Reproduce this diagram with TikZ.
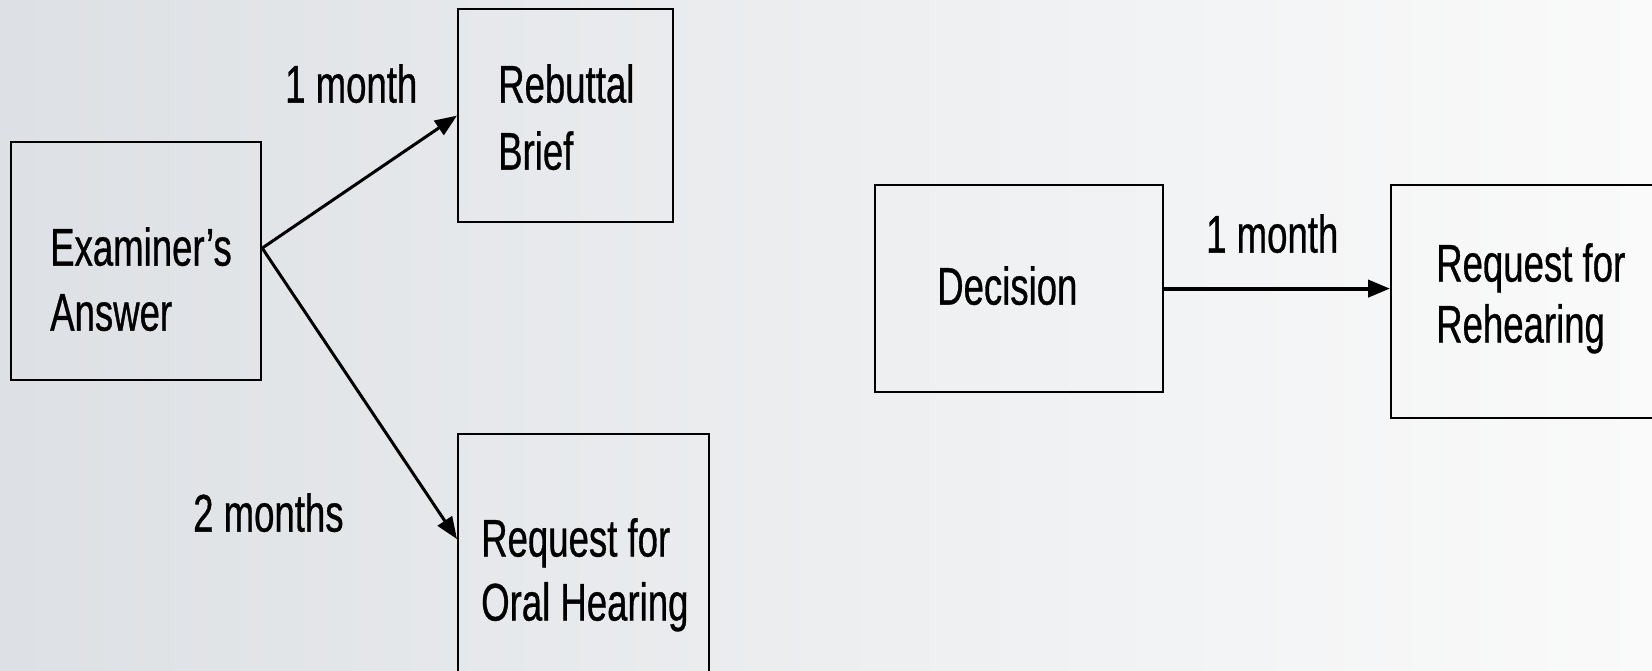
\documentclass[tikz,border=0pt]{standalone}
\usepackage{fontspec}
\setmainfont[FakeStretch=0.69,FakeBold=0.6]{Liberation Sans}
\usetikzlibrary{arrows.meta,calc}
\definecolor{bgleft}{RGB}{221,224,228}
\definecolor{bgmid}{RGB}{236,238,240}
\definecolor{bgright}{RGB}{250,250,250}
\tikzset{
  box/.style={draw=black,line width=2.2pt,inner sep=0pt,anchor=north west},
  lbl/.style={inner sep=0pt,anchor=north west,align=left,font=\fontsize{53}{66}\selectfont},
  conn/.style={line width=3pt,-{Triangle[length=22pt,width=17pt]}}
}
\begin{document}
\begin{tikzpicture}[x=1pt,y=-1pt]
\useasboundingbox (0,0) rectangle (1652,671);
\clip (0,0) rectangle (1652,671);
\shade[left color=bgleft,right color=bgmid] (0,0) rectangle (826,671);
\shade[left color=bgmid,right color=bgright] (826,0) rectangle (1652,671);
% boxes
\node[box,minimum width=250pt,minimum height=238pt] (ea) at (10,141) {};
\node[box,minimum width=215pt,minimum height=213pt] (rb) at (457,8) {};
\node[box,minimum width=251pt,minimum height=260pt] (oh) at (457,433) {};
\node[box,minimum width=288pt,minimum height=207pt] (dec) at (874,184) {};
\node[box,minimum width=300pt,minimum height=233pt] (rr) at (1390,184) {};
% texts
\node[lbl,font=\fontsize{53}{65}\selectfont] (eat) at (50,227) {Examiner’s\\Answer};
\node[lbl,font=\fontsize{53}{67}\selectfont] (rbt) at (498,64) {Rebuttal\\Brief};
\node[lbl,font=\fontsize{53}{64}\selectfont] (oht) at (481,518) {Request for\\Oral Hearing};
\node[lbl] (dect) at (937,266) {Decision};
\node[lbl,font=\fontsize{53}{61}\selectfont] (rrt) at (1436,243) {Request for\\Rehearing};
\node[lbl] (m1) at (285,64) {1 month};
\node[lbl] (m2) at (193,493) {2 months};
\node[lbl] (m3) at (1206,214) {1 month};
% connectors
\coordinate (eaout) at ([yshift=13pt]ea.east);
\draw[conn] (eaout) -- (rb.west);
\draw[conn] (eaout) -- ([yshift=25pt]oh.west);
\draw[conn,line width=4pt] (dec.east) -- (dec.east -| rr.west);
\end{tikzpicture}
\end{document}
